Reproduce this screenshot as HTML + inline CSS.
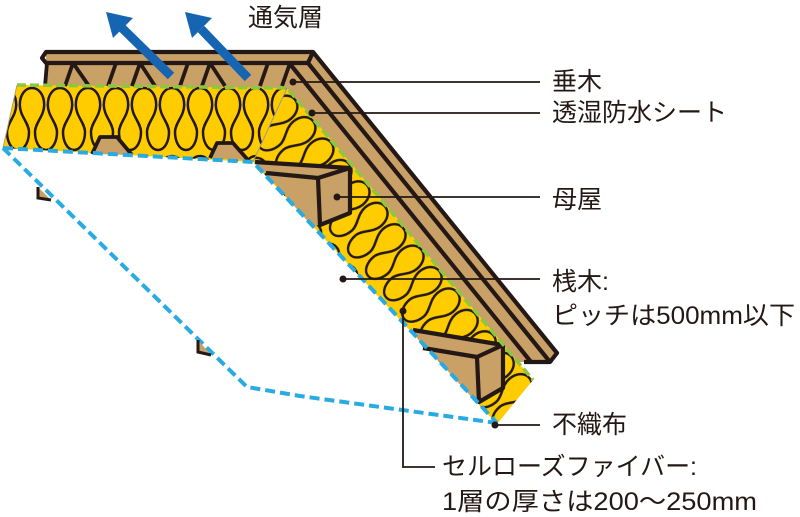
<!DOCTYPE html>
<html><head><meta charset="utf-8"><style>
html,body{margin:0;padding:0;background:#fff;}
svg{display:block;}
text{font-family:"Liberation Sans","Noto Sans CJK JP",sans-serif;font-size:25px;fill:#231815;}
</style></head><body>
<svg width="800" height="517" viewBox="0 0 800 517" xmlns="http://www.w3.org/2000/svg">
<defs>
<pattern id="loopF" patternUnits="userSpaceOnUse" x="18" y="85" width="28" height="68">
<path d="M0,65 C7,65 11,56 11,47 C11,38 1.8,31 1.8,20 C1.8,10 7,3 14,3 C21,3 26.2,10 26.2,20 C26.2,31 17,38 17,47 C17,56 21,65 28,65" fill="none" stroke="#231815" stroke-width="2.5"/>
</pattern>
<pattern id="loopD" patternUnits="userSpaceOnUse" x="0" y="0" width="28" height="68" patternTransform="matrix(0.644 0.765 -0.711 0.599 288 87)">
<path d="M0,65 C7,65 11,56 11,47 C11,38 1.8,31 1.8,20 C1.8,10 7,3 14,3 C21,3 26.2,10 26.2,20 C26.2,31 17,38 17,47 C17,56 21,65 28,65" fill="none" stroke="#231815" stroke-width="2.5"/>
</pattern>
</defs>

<!-- outer left sheet (dashed) -->
<path d="M3,148 L247,387 L300,396 L497,423" fill="none" stroke="#29abe2" stroke-width="4" stroke-dasharray="10 5"/>
<polygon points="38,187 38,198 51,200" fill="#c9a066"/>
<polyline points="38,187 38,198 51,200" fill="none" stroke="#231815" stroke-width="3"/>
<polygon points="198,340 198,352 211,355" fill="#c9a066"/>
<polyline points="198,340 198,352 211,355" fill="none" stroke="#231815" stroke-width="3"/>

<!-- tan structure -->
<polygon points="46,52 313,52 557,353 550,362 518,362 287,88 46,87" fill="#c9a066"/>

<!-- insulation -->
<polygon points="17,85 287,88 253,162 3,148" fill="#ffcc00"/>
<polygon points="287,88 533,380 497,424 253,162" fill="#ffcc00"/>
<polygon points="17,85 287,88 253,162 3,148" fill="url(#loopF)"/>
<polygon points="287,88 533,380 497,424 253,162" fill="url(#loopD)"/>
<line x1="287" y1="88" x2="253" y2="162" stroke="#9a9a9a" stroke-width="1"/>
<line x1="17" y1="85" x2="3" y2="148" stroke="#b0a070" stroke-width="1"/>

<!-- rafters (struts) under flat board -->
<g stroke="#231815" stroke-width="3.8" fill="none">
<line x1="47" y1="63" x2="45" y2="86"/>
<line x1="73" y1="63" x2="65" y2="86"/><line x1="73" y1="63" x2="89" y2="86"/>
<line x1="116" y1="63" x2="108" y2="86"/>
<line x1="140" y1="63" x2="132" y2="86"/><line x1="140" y1="63" x2="155" y2="86"/>
<line x1="188" y1="63" x2="180" y2="86"/>
<line x1="210" y1="63" x2="202" y2="86"/><line x1="210" y1="63" x2="225" y2="86"/>
<line x1="268" y1="63" x2="260" y2="86"/>
<line x1="290" y1="63" x2="282" y2="86"/>
</g>

<!-- flat purlin tops -->
<polygon points="92,154 100,137 117,137 132,155" fill="#c9a066"/>
<polyline points="92,154 100,137 117,137 132,155" fill="none" stroke="#231815" stroke-width="3.8" stroke-linejoin="round"/>
<polygon points="210,158 217,143 233,143 248,160" fill="#c9a066"/>
<polyline points="210,158 217,143 233,143 248,160" fill="none" stroke="#231815" stroke-width="3.8" stroke-linejoin="round"/>

<!-- purlin box 1 -->
<polygon points="262,169 318,178 320,225 312,226" fill="#c9a066"/>
<polygon points="255,162 350,168 318,178 266,173" fill="#c9a066"/>
<polygon points="318,178 350,168 350,213 320,225" fill="#c9a066"/>
<g stroke="#231815" stroke-width="4.2" fill="none" stroke-linejoin="round">
<line x1="255" y1="162" x2="350" y2="168"/>
<line x1="266" y1="173" x2="318" y2="178"/>
<polygon points="318,178 350,168 350,213 320,225"/>
</g>

<!-- purlin box 2 -->
<polygon points="418,338 477,357 479,402 476,402" fill="#c9a066"/>
<polygon points="413,330 503,345 477,357 423,348" fill="#c9a066"/>
<polygon points="477,357 503,345 503,388 479,402" fill="#c9a066"/>
<g stroke="#231815" stroke-width="4.2" fill="none" stroke-linejoin="round">
<line x1="413" y1="330" x2="503" y2="345"/>
<line x1="423" y1="348" x2="477" y2="357"/>
<polygon points="477,357 503,345 503,388 479,402"/>
</g>

<!-- membranes -->
<path d="M17,85 L287,88 L533,380" fill="none" stroke="#8dc63f" stroke-width="3.5" stroke-dasharray="9 4"/>
<path d="M3,148 L253,162 L497,423" fill="none" stroke="#29abe2" stroke-width="4" stroke-dasharray="10 5"/>

<!-- roof board lines -->
<g stroke="#231815" stroke-width="4.2" fill="none" stroke-linejoin="round">
<polyline points="308,63 46,63 42,58 46,52 313,52 557,353 550,362 524,362"/>
<line x1="313" y1="52" x2="308" y2="63"/>
<line x1="308" y1="63" x2="550" y2="362"/>
<line x1="290" y1="64" x2="531" y2="362"/>
</g>

<!-- arrows -->
<g fill="#1565b2">
<line x1="171" y1="76" x2="122" y2="28" stroke="#1565b2" stroke-width="9"/>
<polygon points="106,12 133,18 113,38"/>
<line x1="248" y1="78" x2="201" y2="29" stroke="#1565b2" stroke-width="9"/>
<polygon points="185,12 212,18 192,38"/>
</g>

<!-- leaders -->
<g stroke="#231815" stroke-width="1.8" fill="none">
<line x1="293" y1="82" x2="540" y2="82"/>
<line x1="312" y1="113" x2="540" y2="113"/>
<line x1="337" y1="197" x2="540" y2="197"/>
<line x1="343" y1="279" x2="540" y2="279"/>
<polyline points="403,311 403,467 435,467"/>
<line x1="495" y1="425" x2="540" y2="425"/>
</g>
<g fill="#231815">
<circle cx="293" cy="82" r="3.5"/>
<circle cx="312" cy="113" r="3.5"/>
<circle cx="337" cy="197" r="3.5"/>
<circle cx="343" cy="279" r="3.5"/>
<circle cx="403" cy="311" r="3.5"/>
<circle cx="495" cy="425" r="3.5"/>
</g>

<!-- labels -->
<text x="248" y="26">通気層</text>
<text x="552" y="90">垂木</text>
<text x="552" y="121">透湿防水シート</text>
<text x="552" y="208">母屋</text>
<text x="552" y="290">桟木:</text>
<text x="552" y="324" textLength="243" lengthAdjust="spacingAndGlyphs">ピッチは500mm以下</text>
<text x="552" y="433">不織布</text>
<text x="442" y="475" textLength="255" lengthAdjust="spacingAndGlyphs">セルローズファイバー:</text>
<text x="442" y="510" textLength="315" lengthAdjust="spacingAndGlyphs">1層の厚さは200～250mm</text>
</svg>
</body></html>
